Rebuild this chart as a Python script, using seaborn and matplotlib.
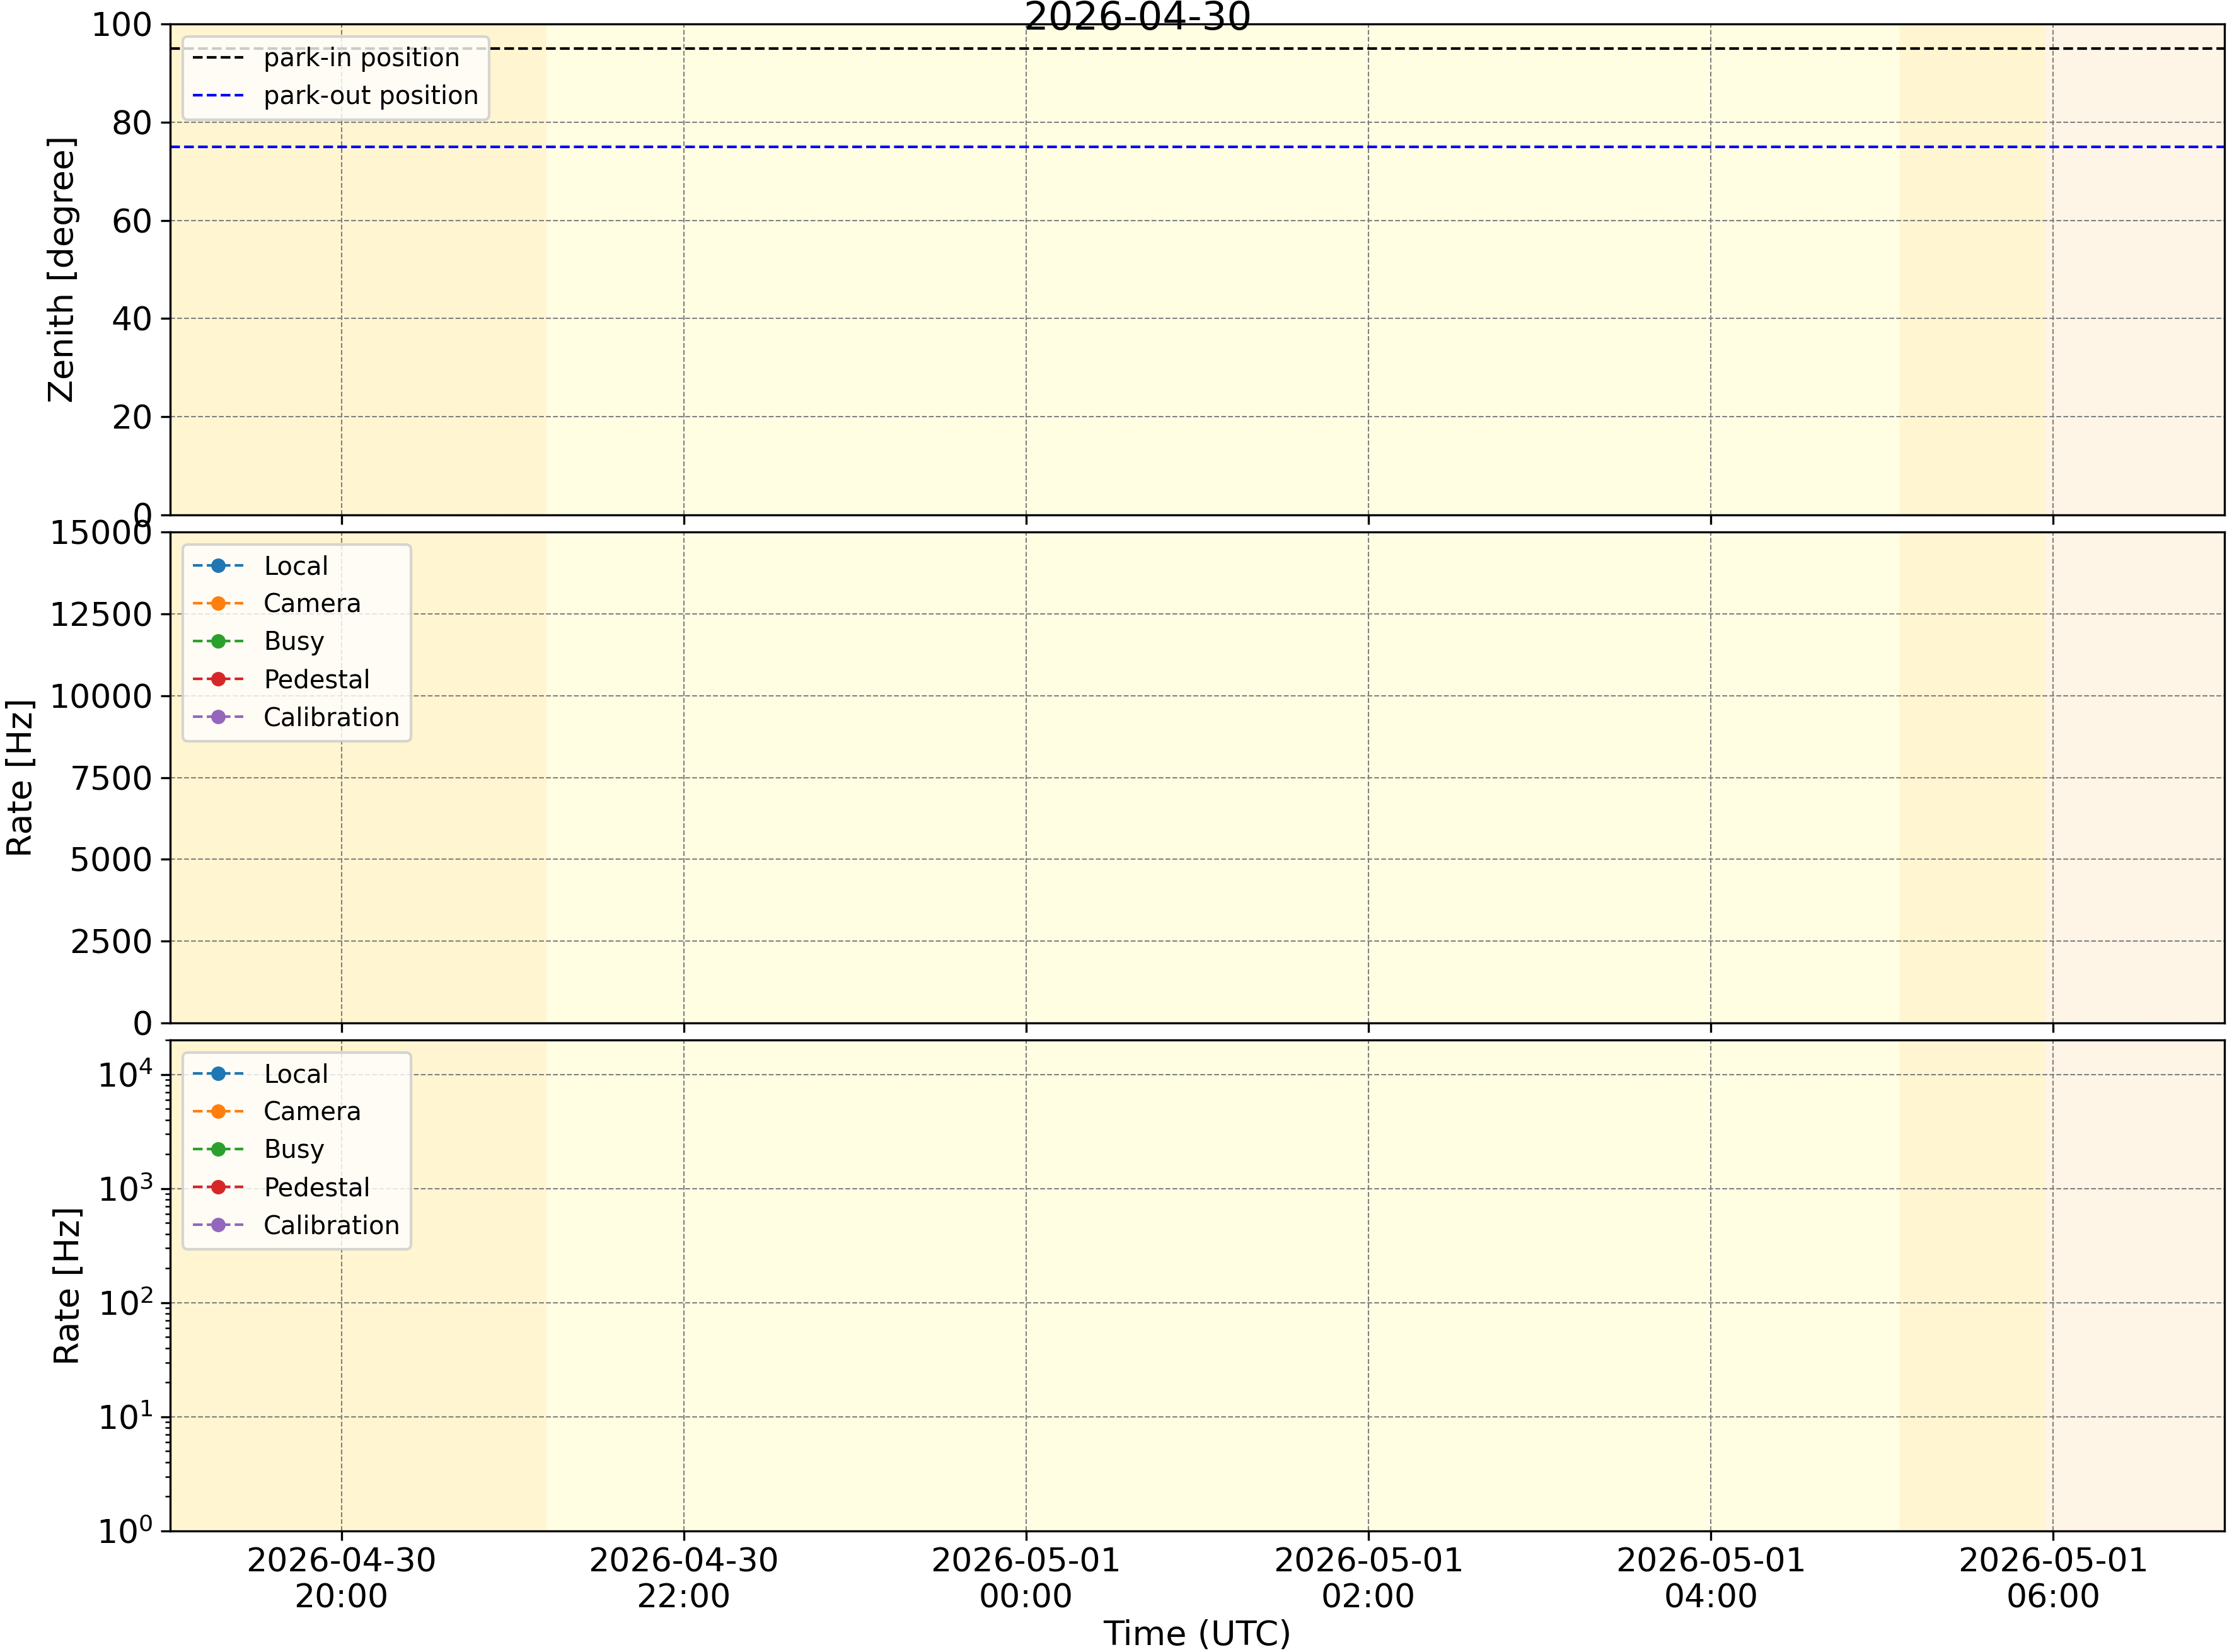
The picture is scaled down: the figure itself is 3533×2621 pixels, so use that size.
import numpy as np
import pandas as pd
import matplotlib
matplotlib.use("Agg")
import matplotlib.pyplot as plt
import matplotlib.dates as mdates
import seaborn as sns

# --- data ---
title_date = "2026-04-30"
x_range = ["2026-04-30 19:00", "2026-05-01 07:00"]

# background shading (twilight / night periods)
band_edges = ["2026-04-30 19:00", "2026-04-30 21:12", "2026-05-01 05:06",
              "2026-05-01 05:57", "2026-05-01 07:00"]
band_colors = ["#FFF5D1", "#FFFEE3", "#FFF5D1", "#FEF5E6"]

park_in_zenith = 95
park_out_zenith = 75

# trigger rates: the night has no data, so every series is empty
rate_names = ["Local", "Camera", "Busy", "Pedestal", "Calibration"]
rate_colors = ["#1f77b4", "#ff7f0e", "#2ca02c", "#d62728", "#9467bd"]
rate_times = []
rate_local = []
rate_camera = []
rate_busy = []
rate_pedestal = []
rate_calibration = []
rate_series = [rate_local, rate_camera, rate_busy, rate_pedestal, rate_calibration]

zenith_ticks = [0, 20, 40, 60, 80, 100]
rate_ticks = [0, 2500, 5000, 7500, 10000, 12500, 15000]

sns.set_style("ticks", {
    "axes.edgecolor": "black",
    "axes.labelcolor": "black",
    "text.color": "black",
    "xtick.color": "black",
    "ytick.color": "black",
    "axes.axisbelow": "line",
})
plt.rcParams["font.family"] = ["DejaVu Sans"]
plt.rcParams["xtick.major.pad"] = 2.5
plt.rcParams["ytick.major.pad"] = 3

fig, axes = plt.subplots(3, 1, figsize=(3533 / 300, 2621 / 300), dpi=300, sharex=True)
fig.subplots_adjust(left=270 / 3533, right=3529 / 3533, top=1 - 38 / 2621,
                    bottom=1 - 2429 / 2621, hspace=0.035)

edges = pd.to_datetime(band_edges)
x0, x1 = pd.to_datetime(x_range)
t = pd.to_datetime(rate_times)

for ax in axes:
    for i, c in enumerate(band_colors):
        ax.axvspan(edges[i], edges[i + 1], color=c, lw=0, zorder=0.5)
    ax.grid(True, color="gray", linestyle="--", linewidth=0.5, zorder=1.5)
    ax.tick_params(labelsize=12.5)
    ax.set_xlim(x0, x1)

# zenith panel
ax = axes[0]
ax.axhline(park_in_zenith, color="black", ls="--", lw=1, label="park-in position")
ax.axhline(park_out_zenith, color="blue", ls="--", lw=1, label="park-out position")
ax.set_ylim(0, 100)
ax.set_yticks(zenith_ticks)
ax.set_ylabel("Zenith [degree]", fontsize=13)
ax.legend(loc="upper left", fontsize=9.6)

# linear and log rate panels
for ax in axes[1:]:
    for name, col, vals in zip(rate_names, rate_colors, rate_series):
        ax.plot(t, vals, "o--", color=col, lw=1, markersize=4.5, label=name)
    ax.set_ylabel("Rate [Hz]", fontsize=13)
    ax.legend(loc="upper left", fontsize=9.6)

axes[1].set_ylim(0, 15000)
axes[1].set_yticks(rate_ticks)

axes[2].set_yscale("log")
axes[2].set_ylim(1, 2e4)
axes[2].tick_params(axis="y", which="minor", left=True, length=2)

axes[2].xaxis.set_major_locator(mdates.HourLocator(byhour=range(0, 24, 2)))
axes[2].xaxis.set_major_formatter(mdates.DateFormatter("%Y-%m-%d\n%H:%M"))
axes[2].set_xlabel("Time (UTC)", fontsize=13, labelpad=1.5)

fig.text(0.511, 1 - 47 / 2621, title_date, ha="center", va="baseline", fontsize=15)

fig.savefig("out.png", dpi=300)
